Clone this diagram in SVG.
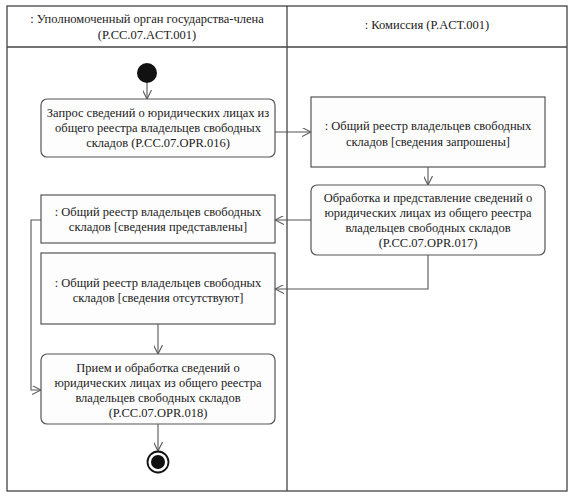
<svg xmlns="http://www.w3.org/2000/svg" width="572" height="499" viewBox="0 0 572 499">
<defs>
<marker id="arr" viewBox="0 0 10 10" refX="10" refY="5" markerWidth="9" markerHeight="9" markerUnits="userSpaceOnUse" orient="auto">
<path d="M0,0 L10,5 L0,10" fill="none" stroke="#555" stroke-width="1.2"/>
</marker>
<style>
.frame{fill:none;stroke:#444;stroke-width:1.3}
.box{fill:#fdfdfd;stroke:#555;stroke-width:1.2}
.t{font-family:'Liberation Serif','Times New Roman',serif;font-size:12.5px;fill:#222;text-anchor:middle}
.c{fill:none;stroke:#555;stroke-width:1.1;marker-end:url(#arr)}
</style>
</defs>
<rect width="572" height="499" fill="#ffffff"/>
<g id="frame">
<rect x="7" y="6" width="560" height="485" fill="#fbfcfb" class="frame"/>
<line x1="7" y1="47" x2="567" y2="47" class="frame"/>
<line x1="287" y1="6" x2="287" y2="491" class="frame"/>
<text class="t" x="147" y="23">: Уполномоченный орган государства-члена</text>
<text class="t" x="147" y="39">(P.CC.07.ACT.001)</text>
<text class="t" x="427" y="29">: Комиссия (P.ACT.001)</text>
</g>
<g id="connectors">
<path class="c" d="M147,83 L147,99"/>
<path class="c" d="M275,132 L311,132"/>
<path class="c" d="M428,167 L428,185"/>
<path class="c" d="M311,220 L275,220"/>
<path class="c" d="M428,255 L428,289 L275,289"/>
<path class="c" d="M41,220 L31,220 L31,390 L41,390"/>
<path class="c" d="M158,324 L158,354"/>
<path class="c" d="M158,424 L158,451"/>
</g>
<g id="start"><circle cx="147" cy="73" r="10" fill="#111"/></g>
<g id="n1">
<rect class="box" x="41" y="99" width="234" height="58" rx="6"/>
<text class="t" x="158" y="117">Запрос сведений о юридических лицах из</text>
<text class="t" x="158" y="132">общего реестра владельцев свободных</text>
<text class="t" x="158" y="147">складов (P.CC.07.OPR.016)</text>
</g>
<g id="n2">
<rect class="box" x="311" y="97" width="234" height="70"/>
<text class="t" x="428" y="130">: Общий реестр владельцев свободных</text>
<text class="t" x="428" y="146">складов [сведения запрошены]</text>
</g>
<g id="n3">
<rect class="box" x="311" y="185" width="234" height="70" rx="6"/>
<text class="t" x="428" y="202">Обработка и представление сведений о</text>
<text class="t" x="428" y="217">юридических лицах из общего реестра</text>
<text class="t" x="428" y="232">владельцев свободных складов</text>
<text class="t" x="428" y="247">(P.CC.07.OPR.017)</text>
</g>
<g id="n4">
<rect class="box" x="41" y="195" width="234" height="48"/>
<text class="t" x="158" y="216">: Общий реестр владельцев свободных</text>
<text class="t" x="158" y="231">складов [сведения представлены]</text>
</g>
<g id="n5">
<rect class="box" x="41" y="253" width="234" height="71"/>
<text class="t" x="158" y="287">: Общий реестр владельцев свободных</text>
<text class="t" x="158" y="302">складов [сведения отсутствуют]</text>
</g>
<g id="n6">
<rect class="box" x="41" y="354" width="234" height="70" rx="6"/>
<text class="t" x="158" y="372">Прием и обработка сведений о</text>
<text class="t" x="158" y="387">юридических лицах из общего реестра</text>
<text class="t" x="158" y="402">владельцев свободных складов</text>
<text class="t" x="158" y="417">(P.CC.07.OPR.018)</text>
</g>
<g id="end">
<circle cx="158" cy="462" r="10.5" fill="#fff" stroke="#111" stroke-width="1.8"/>
<circle cx="158" cy="462" r="7" fill="#111"/>
</g>
</svg>
